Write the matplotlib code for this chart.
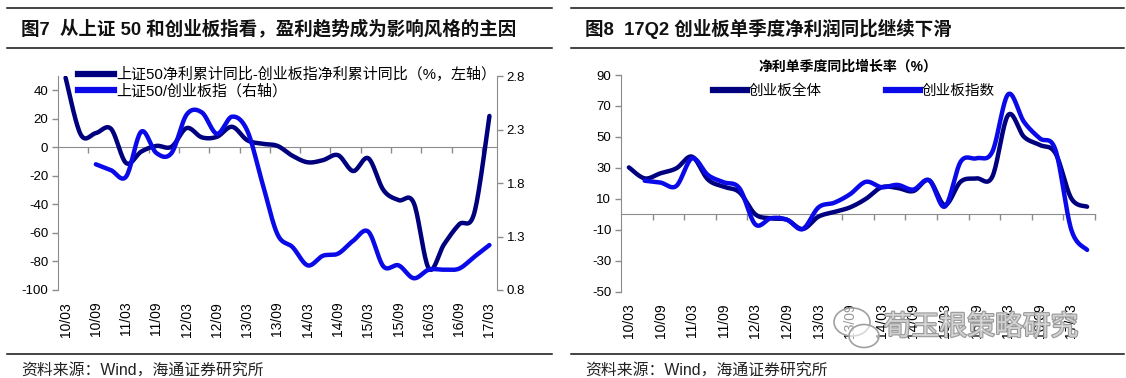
import numpy as np
import matplotlib
matplotlib.use("Agg")
import matplotlib.pyplot as plt
from matplotlib.lines import Line2D
from matplotlib.patches import Ellipse
from matplotlib import patheffects as pe

plt.rcParams['font.family'] = ['Liberation Sans', 'Noto Sans CJK SC']
plt.rcParams['axes.unicode_minus'] = False

# ---------------- data ----------------
left_quarters = ["10/03", "10/06", "10/09", "10/12", "11/03", "11/06", "11/09", "11/12",
                 "12/03", "12/06", "12/09", "12/12", "13/03", "13/06", "13/09", "13/12",
                 "14/03", "14/06", "14/09", "14/12", "15/03", "15/06", "15/09", "15/12",
                 "16/03", "16/06", "16/09", "16/12", "17/03"]
# 上证50净利累计同比 - 创业板指净利累计同比 (%, left axis)
profit_gap = [48.8, 9, 10, 13, -11, -3, 1, 0.4, 13.5, 7, 7.4, 14.4, 5, 2.5, 1, -6,
              -10.5, -9, -5.5, -16.6, -7.7, -30, -37, -39, -85, -68, -54, -46, 22]
# 上证50 / 创业板指 (right axis)
index_ratio = [np.nan, np.nan, 1.975, 1.92, 1.86, 2.28, 2.08, 2.08, 2.44, 2.46, 2.26,
               2.42, 2.29, 1.80, 1.32, 1.20, 1.03, 1.12, 1.14, 1.26, 1.345, 1.02, 1.03,
               0.91, 0.99, 0.99, 1.0, 1.11, 1.22]

right_quarters = left_quarters + ["17/06"]
# 创业板全体 / 创业板指数 单季度净利同比增长率 (%)
cyb_all = [30.3, 23.2, 26.5, 29.7, 37.2, 22.5, 17.8, 14.2, 0, -2.6, -3.5, -9.5, -1.5, 1.5,
           4.5, 10, 17.5, 17, 15, 22, 6, 21.1, 23.2, 24.3, 64.1, 50.1, 44.8, 39.4, 10.3, 4.9]
cyb_index = [np.nan, 21.7, 20.5, 18.3, 36.2, 25.4, 20.7, 16.8, -6.5, -2.5, -3.5, -9.5, 4.5,
             7.5, 13, 21, 17.5, 19, 16, 22, 5, 34, 36.2, 40.4, 77.5, 59.8, 49.1, 41.5, -10, -23]

left_yticks = list(range(-100, 41, 20))
right_axis_ticks = [0.8, 1.3, 1.8, 2.3, 2.8]
right_yticks = list(range(-50, 91, 20))

DARK = '#00007f'
BLUE = '#0a0ae8'
GRAY = '#8c8c8c'
W, H = 1126, 378


def smooth(x, y, n=20):
    """Excel-like smoothed line (uniform Catmull-Rom) through the given points."""
    x = np.asarray(x, float)
    y = np.asarray(y, float)
    m = np.isfinite(y)
    P = np.column_stack([x[m], y[m]])
    out = []
    t = np.linspace(0, 1, n, endpoint=False)[:, None]
    for k in range(len(P) - 1):
        p0 = P[k - 1] if k > 0 else P[k]
        p1, p2 = P[k], P[k + 1]
        p3 = P[k + 2] if k + 2 < len(P) else P[k + 1]
        seg = 0.5 * (2 * p1 + (-p0 + p2) * t + (2 * p0 - 5 * p1 + 4 * p2 - p3) * t ** 2
                     + (-p0 + 3 * p1 - 3 * p2 + p3) * t ** 3)
        out.append(seg)
    out.append(P[-1:])
    S = np.vstack(out)
    return S[:, 0], S[:, 1]


def fx(px):
    return px / W


def fy(py):
    return 1 - py / H


fig = plt.figure(figsize=(W / 100, H / 100), dpi=100)
fig.patch.set_facecolor('white')


def style_cat_axis(ax, ncat, labels):
    ax.set_xlim(-0.5, ncat - 0.5)
    ax.spines['top'].set_visible(False)
    ax.spines['right'].set_visible(False)
    ax.spines['bottom'].set_position(('data', 0))
    ax.spines['bottom'].set_color(GRAY)
    ax.spines['left'].set_color(GRAY)
    ax.set_xticks(np.arange(1.5, ncat, 2))
    ax.set_xticklabels([])
    ax.tick_params(axis='x', direction='out', length=4, color=GRAY, width=1)
    ax.tick_params(axis='y', direction='out', length=4, color=GRAY, width=1,
                   labelsize=9.5, pad=3)
    for k in range(0, len(labels), 2):
        ax.annotate(labels[k], xy=(k, 0), xycoords=('data', 'axes fraction'),
                    xytext=(0, -8.5), textcoords='offset points', rotation=90,
                    ha='center', va='top', fontsize=10, family='Liberation Sans')


# ---------------- left chart ----------------
ax1 = fig.add_axes([fx(58), fy(290), fx(439), 214 / H])
style_cat_axis(ax1, len(left_quarters), left_quarters)
ax1.set_ylim(-100, 50)
ax1.set_yticks(left_yticks)
ax1.set_yticklabels([str(v) for v in left_yticks])
xl = np.arange(len(left_quarters))
sx, sy = smooth(xl, profit_gap)
ax1.plot(sx, sy, color=DARK, lw=3.2, solid_capstyle='round', zorder=3)

ax1r = ax1.twinx()
ax1r.set_ylim(0.8, 2.8)
ax1r.set_yticks(right_axis_ticks)
ax1r.set_yticklabels(['%.1f' % v for v in right_axis_ticks])
for s in ['top', 'left', 'bottom']:
    ax1r.spines[s].set_visible(False)
ax1r.spines['right'].set_color(GRAY)
ax1r.tick_params(axis='y', direction='out', length=4, color=GRAY, width=1,
                 labelsize=9.5, pad=3)
sx, sy = smooth(xl, index_ratio)
ax1r.plot(sx, sy, color=BLUE, lw=3.2, solid_capstyle='round', zorder=3)

h1 = [Line2D([], [], color=DARK, lw=4.5), Line2D([], [], color=BLUE, lw=4.5)]
ax1r.legend(h1, ['上证50净利累计同比-创业板指净利累计同比（%，左轴）', '上证50/创业板指（右轴）'],
            loc='upper left', bbox_to_anchor=(fx(78), fy(67)), bbox_transform=fig.transFigure,
            frameon=False, handlelength=2.4, handletextpad=0.15,
            labelspacing=0.1, borderpad=0, borderaxespad=0,
            prop={'family': ['Liberation Sans', 'Noto Sans CJK SC'], 'size': 10.8})

# ---------------- right chart ----------------
ax2 = fig.add_axes([fx(621), fy(291.7), fx(474), 216.7 / H])
style_cat_axis(ax2, len(right_quarters), right_quarters)
ax2.set_ylim(-50, 90)
ax2.set_yticks(right_yticks)
ax2.set_yticklabels([str(v) for v in right_yticks])
xr = np.arange(len(right_quarters))
sx, sy = smooth(xr, cyb_all)
ax2.plot(sx, sy, color=DARK, lw=3.2, solid_capstyle='round', zorder=3)
sx, sy = smooth(xr, cyb_index)
ax2.plot(sx, sy, color=BLUE, lw=3.2, solid_capstyle='round', zorder=3)
h2 = [Line2D([], [], color=DARK, lw=4.5), Line2D([], [], color=BLUE, lw=4.5)]
ax2.legend(h2, ['创业板全体', '创业板指数'], loc='upper left', ncol=2,
           bbox_to_anchor=(fx(713), fy(84)), bbox_transform=fig.transFigure,
           frameon=False, handlelength=2.3, handletextpad=0.15, columnspacing=4.4,
           borderpad=0, borderaxespad=0,
           prop={'family': ['Liberation Sans', 'Noto Sans CJK SC'], 'size': 10.5})
fig.text(fx(848), fy(67), '净利单季度同比增长率（%）', ha='center', va='center',
         fontsize=10, fontweight='bold')

# ---------------- frame: titles, rules, sources ----------------
for x0, x1 in [(7, 552), (571, 1124)]:
    for yy in [8, 48, 354]:
        fig.add_artist(Line2D([fx(x0), fx(x1)], [fy(yy), fy(yy)], transform=fig.transFigure,
                              color='#111111', lw=1.1))

fig.text(fx(21), fy(28.5), '图7  从上证 50 和创业板指看，盈利趋势成为影响风格的主因',
         ha='left', va='center', fontsize=13.3, fontweight='bold', color='#111111')
fig.text(fx(585), fy(28.5), '图8  17Q2 创业板单季度净利润同比继续下滑',
         ha='left', va='center', fontsize=13.3, fontweight='bold', color='#111111')
fig.text(fx(21), fy(371), '资料来源：Wind，海通证券研究所', ha='left', va='center',
         fontsize=11.4, color='#222222')
fig.text(fx(585), fy(371), '资料来源：Wind，海通证券研究所', ha='left', va='center',
         fontsize=11.4, color='#222222')

# ---------------- watermark (overlay in the reference) ----------------
for (cx, cy, w, h) in [(852, 322, 36, 28), (864, 336, 30, 23)]:
    fig.add_artist(Ellipse((fx(cx), fy(cy)), fx(w), h / H, transform=fig.transFigure,
                           facecolor=(1, 1, 1, 0.6), edgecolor='#a0a0a0', lw=1.2, zorder=20))
fig.text(fx(981), fy(327), '荀玉根策略研究', ha='center', va='center', fontsize=20,
         color=(1, 1, 1, 0.55), zorder=21, family=['Noto Sans CJK SC'],
         path_effects=[pe.withStroke(linewidth=1.6, foreground='#9a9a9a')])

fig.savefig('out.png', dpi=100, facecolor='white')
